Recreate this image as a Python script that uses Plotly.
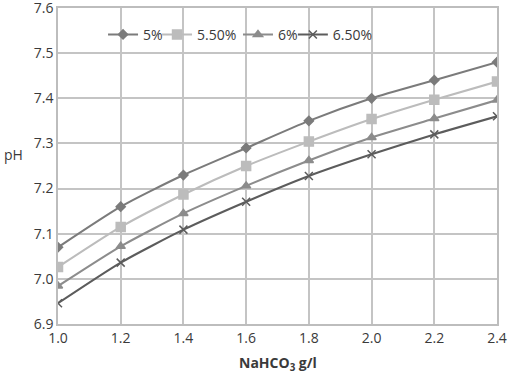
import plotly.graph_objects as go

x_vals = [1.0, 1.2, 1.4, 1.6, 1.8, 2.0, 2.2, 2.4]
ph_5 = [7.07, 7.16, 7.23, 7.29, 7.35, 7.40, 7.44, 7.48]
ph_55 = [7.026, 7.115, 7.187, 7.25, 7.304, 7.354, 7.397, 7.437]
ph_6 = [6.984, 7.072, 7.145, 7.206, 7.262, 7.313, 7.355, 7.396]
ph_65 = [6.946, 7.036, 7.109, 7.171, 7.228, 7.276, 7.32, 7.36]
series_names = ["5%", "5.50%", "6%", "6.50%"]

series = [ph_5, ph_55, ph_6, ph_65]
colors = ["#7b7b7b", "#bcbcbc", "#8c8c8c", "#5c5c5c"]
symbols = ["diamond", "square", "triangle-up", "x-thin"]
sizes = [7, 9, 8, 8]
legend_ids = ["legend", "legend2", "legend3", "legend4"]
legend_x = [0.1026, 0.2256, 0.410, 0.535]

font_family = "Open Sans, DejaVu Sans, sans-serif"
text_color = "#3a3a3a"

fig = go.Figure()
for name, ys, c, s, sz, lg in zip(series_names, series, colors, symbols, sizes, legend_ids):
    fig.add_trace(go.Scatter(
        x=x_vals, y=ys, name=name, mode="lines+markers", legend=lg,
        line=dict(color=c, width=2.1, shape="spline", smoothing=0.6),
        marker=dict(symbol=s, size=sz, color=c, line=dict(color=c, width=1.5)),
    ))

legend_common = dict(orientation="h", y=0.915, xanchor="left", yanchor="middle",
                     bgcolor="rgba(0,0,0,0)", font=dict(size=14, color=text_color))
layout_legends = {}
for lg, lx in zip(legend_ids, legend_x):
    layout_legends[lg] = dict(x=lx, **legend_common)

fig.update_layout(
    width=508, height=373,
    margin=dict(l=58, r=11, t=8, b=49),
    paper_bgcolor="white", plot_bgcolor="white",
    font=dict(family=font_family, size=14, color=text_color),
    showlegend=True,
    xaxis=dict(range=[1.0, 2.4], tickvals=x_vals, tickformat=".1f", automargin=False,
               ticklabeloverflow="allow",
               showgrid=True, gridcolor="#c4c4c4", gridwidth=1.5,
               showline=True, linecolor="#bdbdbd", linewidth=1.5, mirror=True,
               zeroline=False, ticks="", tickfont=dict(size=14, color=text_color)),
    yaxis=dict(range=[6.9, 7.6], dtick=0.1, tickformat=".1f", automargin=False,
               ticklabeloverflow="allow",
               showgrid=True, gridcolor="#c4c4c4", gridwidth=1.5,
               showline=True, linecolor="#bdbdbd", linewidth=1.5, mirror=True,
               zeroline=False, ticks="", tickfont=dict(size=14, color=text_color)),
    annotations=[
        dict(text="<b>NaHCO<sub>3</sub> g/l</b>", xref="paper", yref="paper",
             x=0.5, y=-0.125, xanchor="center", yanchor="middle", showarrow=False,
             font=dict(size=14, color=text_color)),
        dict(text="pH", xref="paper", yref="paper",
             x=-0.1276, y=0.535, xanchor="left", yanchor="middle", showarrow=False,
             font=dict(size=14, color=text_color)),
    ],
    **layout_legends,
)

fig.write_html("out.html", config={"displayModeBar": False},
               post_script="document.body.style.margin='0';document.body.style.overflow='hidden';")
